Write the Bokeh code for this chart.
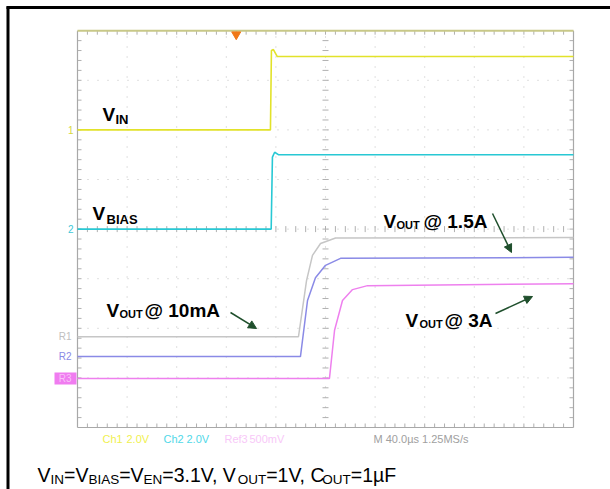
import numpy as np
from bokeh.plotting import figure
from bokeh.models import Range1d, Arrow, NormalHead
from bokeh.core.properties import value
from bokeh.embed import file_html
from bokeh.resources import INLINE

# ---------------- data (time in microseconds, voltage in scope divisions) ----------------
time_per_div_us = 40
n_hdiv = 10
n_vdiv = 8

vin_t = [0, 155.6, 156.4, 158.0, 161.0, 400]
vin_v = [6.0, 6.0, 7.6, 7.62, 7.48, 7.48]

vbias_t = [0, 156.2, 157.2, 159.0, 162.0, 400]
vbias_v = [4.0, 4.0, 5.45, 5.55, 5.5, 5.5]

r1_t = [0, 178.2, 184.7, 189.5, 196.0, 208.1, 400]      # VOUT @ 10mA
r1_v = [1.83, 1.83, 2.96, 3.47, 3.71, 3.82, 3.83]

r2_t = [0, 179.8, 185.5, 191.9, 200.0, 212.1, 400]      # VOUT @ 1.5A
r2_v = [1.43, 1.43, 2.56, 3.02, 3.27, 3.41, 3.43]

r3_t = [0, 203.2, 207.3, 213.7, 221.8, 233.9, 400]      # VOUT @ 3A
r3_v = [0.99, 0.99, 1.96, 2.56, 2.78, 2.86, 2.9]

trigger_t = [128.0]

status_texts = ["Ch1", "2.0V", "Ch2", "2.0V", "Ref3", "500mV", "M 40.0\u00b5s 1.25MS/s"]

# ---------------- layout helpers (page pixels -> data) ----------------
X0, Y0, SX, SY = 77.0, 427.0, 1.24, 49.6
def tx(px):
    return (px - X0) / SX
def dy(py):
    return (Y0 - py) / SY

SANS = value("Liberation Sans")

p = figure(width=610, height=489,
           x_range=Range1d(tx(0), tx(610)), y_range=Range1d(dy(489), dy(0)),
           output_backend="svg", toolbar_location=None,
           x_axis_location=None, y_axis_location=None, min_border=0)
p.grid.visible = False
p.outline_line_color = None
p.background_fill_color = "white"
p.border_fill_color = "white"

tmax = n_hdiv * time_per_div_us
tmid = tmax / 2
ymid = n_vdiv / 2

# dotted grid
xs_v = [i * time_per_div_us for i in range(1, n_hdiv)]
p.segment(x0=xs_v, y0=[0] * len(xs_v), x1=xs_v, y1=[n_vdiv] * len(xs_v),
          line_color="#c0c0c0", line_width=1, line_dash="1 9")
ys_h = list(range(1, n_vdiv))
p.segment(x0=[0] * len(ys_h), y0=ys_h, x1=[tmax] * len(ys_h), y1=ys_h,
          line_color="#c0c0c0", line_width=1, line_dash="1 9")

# ticks on center lines and frame edges
sub_t = [k * time_per_div_us / 5 for k in range(1, n_hdiv * 5)]
sub_y = [k / 5 for k in range(1, n_vdiv * 5)]
tick_col = "#b0b0b0"
p.segment(x0=[tmid - 3 / SX] * len(sub_y), x1=[tmid + 3 / SX] * len(sub_y), y0=sub_y, y1=sub_y,
          line_color=tick_col, line_width=1)
p.segment(x0=sub_t, x1=sub_t, y0=[ymid - 3 / SY] * len(sub_t), y1=[ymid + 3 / SY] * len(sub_t),
          line_color=tick_col, line_width=1)
p.segment(x0=[0] * len(sub_y), x1=[4 / SX] * len(sub_y), y0=sub_y, y1=sub_y, line_color=tick_col)
p.segment(x0=[tmax] * len(sub_y), x1=[tmax - 4 / SX] * len(sub_y), y0=sub_y, y1=sub_y, line_color=tick_col)
p.segment(x0=sub_t, x1=sub_t, y0=[0] * len(sub_t), y1=[4 / SY] * len(sub_t), line_color=tick_col)
p.segment(x0=sub_t, x1=sub_t, y0=[n_vdiv] * len(sub_t), y1=[n_vdiv - 4 / SY] * len(sub_t), line_color=tick_col)

# frame
p.segment(x0=[0, tmax, 0], y0=[0, 0, 0], x1=[0, tmax, tmax], y1=[n_vdiv, n_vdiv, 0],
          line_color="#a8a8a8", line_width=1.2)
p.segment(x0=[0], y0=[n_vdiv], x1=[tmax], y1=[n_vdiv], line_color="#c8c888", line_width=2)

# traces
p.line(r1_t, r1_v, line_color="#c6c6c6", line_width=1.5)
p.line(r2_t, r2_v, line_color="#8a8ae6", line_width=1.5)
p.line(r3_t, r3_v, line_color="#ee80ee", line_width=1.5)
p.line(vbias_t, vbias_v, line_color="#28c8d4", line_width=1.6)
p.line(vin_t, vin_v, line_color="#e2e22a", line_width=1.6)

# trigger marker
p.scatter(x=trigger_t, y=[dy(34)], marker="inverted_triangle", size=9,
          fill_color="#f07818", line_color="#f07818")

# ground markers
def marker_label(px, yv, s, col):
    p.text(x=[tx(px)], y=[yv], text=[s], text_color=col, text_font=SANS,
           text_font_size="10px", text_align="right", text_baseline="middle")
marker_label(73, vin_v[0], "1", "#d8d840")
marker_label(73, vbias_v[0], "2", "#40c8d8")
marker_label(71, r1_v[0], "R1", "#c0c0c0")
marker_label(71, r2_v[0], "R2", "#8a8ae6")
p.quad(left=[tx(54)], right=[tx(76)], bottom=[r3_v[0] - 6 / SY], top=[r3_v[0] + 6 / SY],
       fill_color="#f07cf0", line_color=None)
marker_label(71, r3_v[0], "R3", "#f8c0f8")

# annotations
def put(px, py, s, size, bold=True, color="black"):
    p.text(x=[tx(px)], y=[dy(py)], text=[s], text_font=SANS, text_font_size=size,
           text_font_style="bold" if bold else "normal", text_color=color,
           text_align="left", text_baseline="alphabetic")

MAIN = "19px"
SUB = "13px"
SUBO = "11px"
put(102, 114, "V", MAIN); put(115, 119, "IN", SUB)
put(92, 213, "V", MAIN); put(106, 219, "BIAS", SUB)
put(383, 221, "V", MAIN); put(396, 224, "OUT", SUBO); put(423, 221, "@ 1.5A", MAIN)
put(106, 310, "V", MAIN); put(119, 313, "OUT", SUBO); put(144, 310, "@ 10mA", MAIN)
put(405, 320, "V", MAIN); put(419, 323, "OUT", SUBO); put(444, 320, "@ 3A", MAIN)

arrow_col = "#1f4f2c"
for (xa, ya, xb, yb) in [(492, 213, 511, 252), (230, 312, 256, 328), (495, 313, 532, 296)]:
    p.add_layout(Arrow(end=NormalHead(size=8, fill_color=arrow_col, line_color=arrow_col),
                       x_start=tx(xa), y_start=dy(ya), x_end=tx(xb), y_end=dy(yb),
                       line_color=arrow_col, line_width=1.5))

# status line
status_x = [102, 126, 163, 186, 224, 249, 373]
status_c = ["#f0f050", "#f0f050", "#50d8e8", "#50d8e8", "#f8c8f8", "#f8c8f8", "#a0a0a0"]
p.text(x=[tx(v) for v in status_x], y=[dy(438)] * len(status_x), text=status_texts,
       text_color=status_c, text_font=SANS, text_font_size="11px",
       text_align="left", text_baseline="middle")

# caption with subscripts
W = {"V": .667, "I": .278, "N": .722, "=": .584, "B": .667, "A": .667, "S": .667, "E": .667,
     "3": .556, ".": .278, "1": .556, ",": .278, " ": .278, "O": .778, "U": .722, "T": .611,
     "C": .722, "\u00b5": .576, "F": .611}
parts = [("V", 0, 0), ("IN", 1, 0), ("=V", 0, 0), ("BIAS", 1, 0), ("=V", 0, 0), ("EN", 1, 0),
         ("=3.1V, V", 0, 0), ("OUT", 1, 0), ("=1V, C", 0, -4), ("OUT", 1, 0), ("=1\u00b5F", 0, 0)]
cx = 37.0
for s, is_sub, adj in parts:
    size = 13.5 if is_sub else 19.5
    base = 479 if is_sub else 474
    put(cx, base, s, f"{size}px", bold=False)
    cx += sum(W[c] for c in s) * size + adj

# outer black border
p.segment(x0=[tx(7.5)], y0=[dy(6)], x1=[tx(7.5)], y1=[dy(489)], line_color="black", line_width=3)
p.segment(x0=[tx(6)], y0=[dy(7)], x1=[tx(610)], y1=[dy(7)], line_color="black", line_width=3)

open("out.html", "w").write(file_html(p, INLINE))
